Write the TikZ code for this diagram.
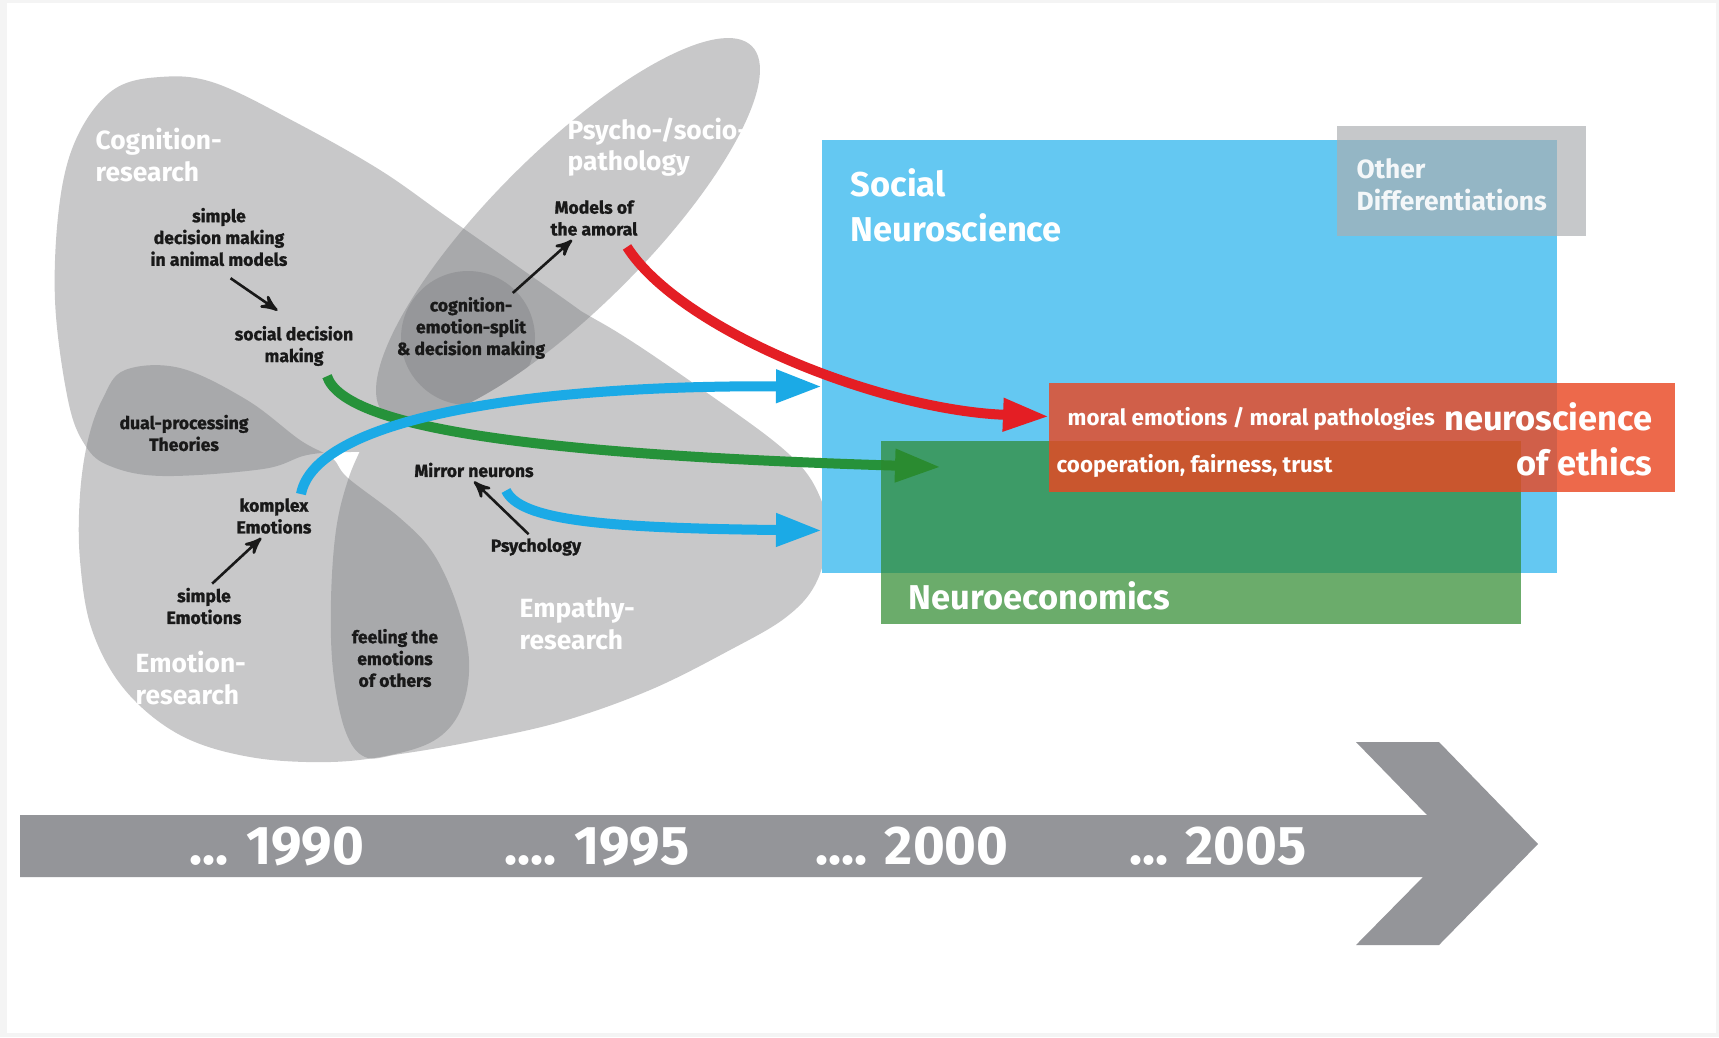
\documentclass[tikz,border=0pt]{standalone}
\usepackage{fontspec}
\setmainfont{Fira Sans}
\newfontfamily\heavyfont[BoldFeatures={FakeBold=1.2}]{Fira Sans}
\usetikzlibrary{arrows,arrows.meta,positioning}

\definecolor{framegray}{RGB}{244,244,244}
\definecolor{blobgray}{RGB}{128,129,132}
\definecolor{timegray}{RGB}{148,149,153}
\definecolor{socblue}{RGB}{100,200,242}
\definecolor{othergray}{RGB}{172,174,177}
\definecolor{ecogreen}{RGB}{45,137,45}
\definecolor{ethicsred}{RGB}{234,71,34}
\definecolor{arrowblue}{RGB}{27,170,230}
\definecolor{arrowred}{RGB}{228,30,36}
\definecolor{arrowgreen}{RGB}{38,146,58}
\definecolor{labelblack}{RGB}{25,25,25}

\begin{document}
\begin{tikzpicture}[x=0.1mm,y=-0.1mm,
    blob/.style={fill=blobgray,fill opacity=.43},
    box node/.style={rectangle,inner sep=0pt,outer sep=0pt,anchor=north west},
    small label/.style={text=labelblack,font=\fontsize{5}{6.2}\selectfont\heavyfont\bfseries,align=center,inner sep=1pt},
    blob label/.style={text=white,font=\fontsize{7.5}{9}\selectfont\bfseries,align=left,inner sep=0pt,anchor=west},
    box label/.style={text=white,font=\fontsize{9.8}{12.8}\selectfont\bfseries,align=left,inner sep=0pt,anchor=west},
    note label/.style={text=white,font=\fontsize{6.35}{8}\selectfont\bfseries,inner sep=0pt,anchor=west},
    year label/.style={text=white,font=\fontsize{15.5}{16}\selectfont\bfseries},
    flow arrow/.style={line width=1mm,-{Triangle[length=4.6mm,width=3.1mm]}},
    thin arrow/.style={->,>=stealth',line width=0.26mm,labelblack}]

\useasboundingbox (0,0) rectangle (1719,1037);
\fill[framegray] (0,0) rectangle (1719,1037);
\fill[white] (7,3) rectangle (1716,1033);

% research fields
\fill[blob] plot[smooth cycle,tension=.6] coordinates {(55,300) (60,200) (78,135) (113,90) (160,77) (215,83) (297,123) (380,170) (447,217) (520,268) (593,320) (640,360) (600,420) (500,445) (420,452) (350,452) (307,455) (263,469) (163,476) (110,466) (85,445) (68,400)}
  plot[smooth cycle,tension=.6] coordinates {(430,330) (520,290) (600,322) (713,397) (790,455) (820,497) (827,540) (815,585) (785,618) (730,650) (650,690) (560,722) (470,742) (400,754) (365,757) (345,730) (333,670) (331,600) (336,530) (348,480) (365,440) (390,385)};
\fill[blob] plot[smooth cycle,tension=.6] coordinates {(125,370) (180,368) (247,400) (300,440) (332,458) (348,478) (400,518) (433,553) (457,605) (469,660) (462,707) (438,738) (395,754) (330,762) (250,757) (180,735) (125,690) (92,630) (80,560) (80,495) (88,440) (103,398)};
\fill[blob,rotate around={45:(568,230)}] (568,230) ellipse [x radius=260,y radius=78];
\begin{scope}
  \clip[rotate around={45:(568,230)}] (568,230) ellipse [x radius=260,y radius=78];
  \fill[blob] (468,338) circle [radius=67];
\end{scope}

% time line
\fill[timegray] (20,815) -- (1427,815) -- (1356,742) -- (1439,742) -- (1538,844) -- (1439,945) -- (1356,945) -- (1423,877) -- (20,877) -- cycle;
\node[year label] (y1990) at (277,846) {... 1990};
\node[year label] (y1995) at (597,846) {.... 1995};
\node[year label] (y2000) at (912,846) {.... 2000};
\node[year label] (y2005) at (1218,846) {... 2005};

% field names
\node[blob label] (cogres) at (95,155) {Cognition-\\research};
\node[blob label] (psychores) at (567,147) {Psycho-/socio-\\pathology};
\node[blob label] (emores) at (135,678) {Emotion-\\research};
\node[blob label] (empres) at (519,624) {Empathy-\\research};

% topics
\node[small label] (simpledm) at (219,237) {simple\\decision making\\in animal models};
\node[small label] (socialdm) at (294,346) {social decision\\making};
\node[small label] (amoral) at (594,218) {Models of\\the amoral};
\node[small label] (cogsplit) at (471,328) {cognition-\\emotion-split\\\& decision making};
\node[small label] (dualproc) at (184,433) {dual-processing\\Theories};
\node[small label] (komplex) at (274,516) {komplex\\Emotions};
\node[small label] (simpleemo) at (204,606) {simple\\Emotions};
\node[small label] (mirror) at (474,470) {Mirror neurons};
\node[small label] (psych) at (536,547) {Psychology};
\node[small label] (feeling) at (395,658) {feeling the\\emotions\\of others};

\draw[thin arrow,shorten <=1.4mm,shorten >=2mm] (simpledm.south) -- (socialdm.north);
\draw[thin arrow] (cogsplit.40) -- (amoral.-135);
\draw[thin arrow] (simpleemo.70) -- (komplex.-120);
\draw[thin arrow] (psych.120) -- (mirror.south);

% boxes
\node[box node,fill=socblue,minimum width=73.5mm,minimum height=43.3mm] (socbox) at (822,140) {};
\node[box node,fill=othergray,fill opacity=.68,minimum width=24.9mm,minimum height=11mm] (otherbox) at (1337,126) {};
\coordinate (ecoin) at (941,467);
\draw[flow arrow,arrowgreen] ([xshift=3.3mm,yshift=-0.6mm]socialdm.south) .. controls (345,430) and (550,455) .. (ecoin);
\node[box node,fill=ecogreen,fill opacity=.7,minimum width=64mm,minimum height=18.3mm] (ecobox) at (881,441) {};
\node[box node,fill=ethicsred,fill opacity=.81,minimum width=62.6mm,minimum height=10.9mm] (ethicsbox) at (1049,383) {};

\draw[flow arrow,arrowblue] ([xshift=2.7mm]komplex.north) .. controls (315,420) and (520,385) .. ([yshift=-3mm]socbox.west);
\draw[flow arrow,arrowblue] ([xshift=3.2mm,yshift=-0.9mm]mirror.south) .. controls (520,520) and (600,528) .. ([yshift=-17.4mm]socbox.west);
\draw[flow arrow,arrowred] ([xshift=3.3mm,yshift=-0.7mm]amoral.south) .. controls (680,330) and (880,410) .. ([yshift=2.1mm]ethicsbox.west);

\node[box label] (socneuro) at (850,205) {Social\\Neuroscience};
\node[blob label,text opacity=.9] (otherdiff) at (1356,185) {Other\\Differentiations};
\node[box label] (neuroeco) at (908,596) {Neuroeconomics};
\node[note label] (moralemo) at (1067,419) {moral emotions / moral pathologies};
\node[note label] (coop) at (1056,466) {cooperation, fairness, trust};
\node[box label,align=right,anchor=east] (neuroeth) at (1653,439) {neuroscience\\of ethics};

\end{tikzpicture}
\end{document}
